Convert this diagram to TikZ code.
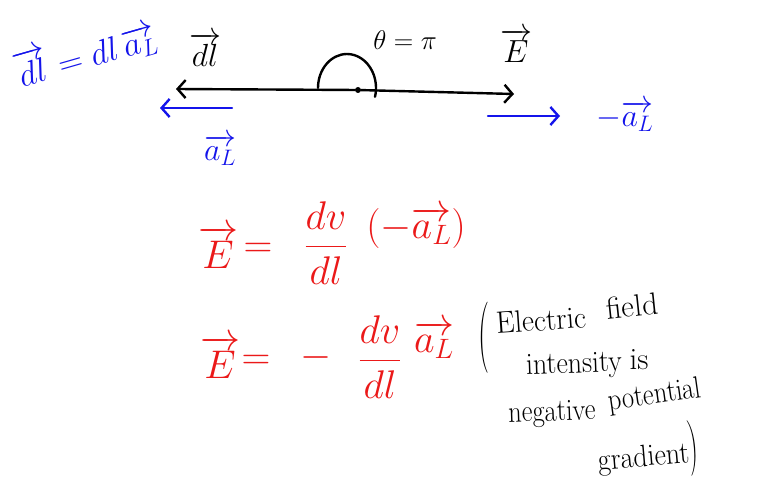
\RequirePackage{fix-cm}
\documentclass[tikz,border=0pt]{standalone}
\usepackage{amsmath}
\usepackage{fontspec}
\usetikzlibrary{arrows.meta}
\definecolor{penblue}{RGB}{20,20,235}
\definecolor{penred}{RGB}{235,25,25}
\tikzset{
  pen/.style={line width=2.4pt, line cap=round, line join=round},
  blk/.style={pen, draw=black},
  blu/.style={pen, draw=penblue},
  tipend/.style={-{Straight Barb[length=8pt,width=18pt]}},
  bluetext/.style={text=penblue, inner sep=0pt},
  redtext/.style={text=penred, inner sep=0pt},
  blktext/.style={text=black, inner sep=0pt},
  big/.style={font=\fontsize{32}{36}\selectfont},
  mid/.style={font=\fontsize{27}{30}\selectfont},
  note/.style={blktext, font=\fontsize{31}{34}\selectfont},
  redbig/.style={font=\fontsize{40}{44}\selectfont},
}
\begin{document}
\begin{tikzpicture}[x=1pt,y=-1pt]
\useasboundingbox (0,0) rectangle (777,495);
\fill[white] (0,0) rectangle (777,495);

% blue definition, top left
\node[bluetext, font=\fontsize{34}{38}\selectfont, rotate=16] (dldef) at (85,53) {$\overrightarrow{dl}= dl\,\overrightarrow{a_L}$};

% black line with angle
\node[circle, fill=black, inner sep=0pt, minimum size=6pt] (O) at (358,90) {};
\coordinate (Lend) at (176,89);
\coordinate (Rend) at (514,94);
\draw[blk, tipend] (O) -- (Rend);
\draw[blk, tipend] (O) -- (Lend);
\draw[blk] (318,88) arc[start angle=180, end angle=375, x radius=29, y radius=34];

\node[blktext, big] (dllab) at (205,50) {$\overrightarrow{dl}$};
\node[blktext, mid] (theta) at (405,40) {$\theta=\pi$};
\node[blktext, big] (Elab) at (516,46) {$\overrightarrow{E}$};

% blue unit vectors
\coordinate (bl1) at (232,108);
\coordinate (bl2) at (160,108);
\draw[blu, tipend] (bl1) -- (bl2);
\coordinate (br1) at (488,116);
\coordinate (br2) at (560,116);
\draw[blu, tipend] (br1) -- (br2);
\node[bluetext, big] (aL1) at (220,150) {$\overrightarrow{a_L}$};
\node[bluetext, big] (maL) at (625,116) {$-\overrightarrow{a_L}$};

% red equations
\node[redtext, redbig] (E1) at (218,247) {$\overrightarrow{E}$};
\node[redtext, redbig] (eq1) at (258,250) {$=$};
\node[redtext, redbig] (fr1) at (326,243) {$\dfrac{dv}{dl}$};
\node[redtext, redbig] (pa1) at (416,228) {$\left(-\overrightarrow{a_L}\right)$};

\node[redtext, redbig] (E2) at (220,357) {$\overrightarrow{E}$};
\node[redtext, redbig] (eq2) at (256,362) {$=$};
\node[redtext, redbig] (minus2) at (316,357) {$-$};
\node[redtext, redbig] (fr2) at (380,357) {$\dfrac{dv}{dl}$};
\node[redtext, redbig] (aL2) at (434,340) {$\overrightarrow{a_L}$};

% black remark
\node[note] (lpar) at (484,338) {\scalebox{1}[2.3]{(}};
\node[note, rotate=4] (w1) at (541,320) {\scalebox{0.95}[1]{Electric}};
\node[note, rotate=6] (w2) at (632,306) {field};
\node[note, rotate=2] (w3) at (574,366) {\scalebox{0.9}[1]{intensity}};
\node[note] (w4) at (639,360) {is};
\node[note, rotate=2] (w5) at (552,414) {\scalebox{0.85}[1]{negative}};
\node[note, rotate=8] (w6) at (655,396) {\scalebox{0.85}[1]{potential}};
\node[note, rotate=5] (w7) at (648,452) {\scalebox{0.9}[1]{gradient\scalebox{1}[1.8]{)}}};
\end{tikzpicture}
\end{document}
